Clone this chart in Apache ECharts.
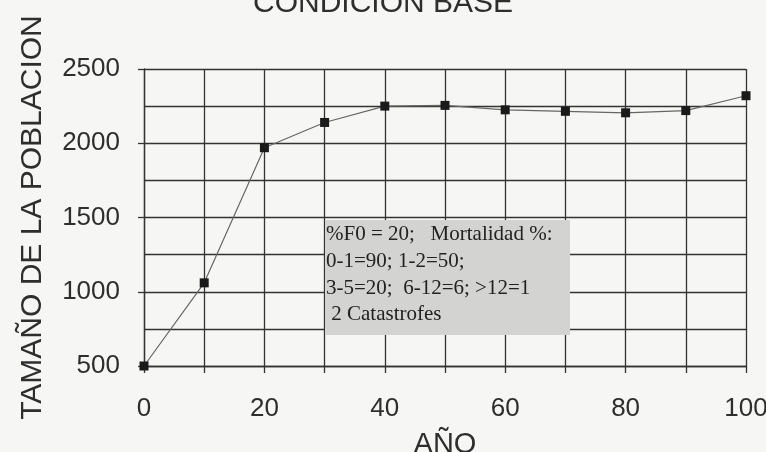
<!DOCTYPE html>
<html>
<head>
<meta charset="utf-8">
<script src="https://cdn.jsdelivr.net/npm/echarts@6/dist/echarts.min.js"></script>
<style>
html,body{margin:0;padding:0;background:#f6f6f4;}
#c{width:766px;height:452px;}
</style>
</head>
<body>
<div id="c"></div>
<script>
const years = [0, 10, 20, 30, 40, 50, 60, 70, 80, 90, 100];
const population = [500, 1060, 1970, 2140, 2250, 2255, 2225, 2215, 2205, 2220, 2320];
const titleText = 'CONDICION BASE';
const xName = 'AÑO';
const yName = 'TAMAÑO DE LA POBLACION';
const noteLines = ['%F0 = 20;   Mortalidad %:', '0-1=90; 1-2=50;', '3-5=20;  6-12=6; >12=1', ' 2 Catastrofes'];

const chart = echarts.init(document.getElementById('c'));
const ink = '#2e2e2e';
const gridStyle = {color: '#333', width: 1.3};
chart.setOption({
  backgroundColor: '#f6f6f4',
  animation: false,
  grid: {left: 144, right: 20, top: 69, bottom: 86, containLabel: false, outerBoundsMode: 'none'},
  xAxis: {
    type: 'value', min: 0, max: 100, interval: 20,
    axisLine: {show: true, lineStyle: gridStyle},
    axisTick: {show: true, length: 7, lineStyle: gridStyle},
    minorTick: {show: true, splitNumber: 2, length: 7, lineStyle: gridStyle},
    splitLine: {show: true, lineStyle: gridStyle},
    minorSplitLine: {show: true, lineStyle: gridStyle},
    axisLabel: {fontFamily: 'Liberation Sans, Arial', fontSize: 26, color: ink, margin: 30, formatter: v => String(v)},
    name: xName, nameLocation: 'middle', nameGap: 64,
    nameTextStyle: {fontFamily: 'Liberation Sans, Arial', fontSize: 29, color: ink}
  },
  yAxis: {
    type: 'value', min: 500, max: 2500, interval: 500,
    axisLine: {show: true, lineStyle: gridStyle},
    axisTick: {show: true, length: 6, lineStyle: gridStyle},
    minorTick: {show: false, splitNumber: 2},
    splitLine: {show: true, lineStyle: gridStyle},
    minorSplitLine: {show: true, lineStyle: gridStyle},
    axisLabel: {fontFamily: 'Liberation Sans, Arial', fontSize: 26, color: ink, margin: 24, formatter: v => String(v)},
    name: yName, nameLocation: 'middle', nameGap: 96, nameRotate: 90,
    nameTextStyle: {fontFamily: 'Liberation Sans, Arial', fontSize: 30, color: ink, padding: [0, 0, 0, 0]}
  },
  series: [{
    type: 'line',
    data: years.map((x, i) => [x, population[i]]),
    symbol: 'rect', symbolSize: 9,
    lineStyle: {color: '#666', width: 1.2},
    itemStyle: {color: '#1a1a1a'},
    z: 5
  }],
  graphic: [
    {type: 'text', left: 'center', top: -11, style: {text: titleText, fontFamily: 'Liberation Sans, Arial', fontSize: 30, fill: ink}, z: 10},
    {type: 'rect', shape: {x: 325, y: 220, width: 245, height: 115}, style: {fill: '#d3d3d1'}, z: 10},
    {type: 'text', x: 326, y: 221, style: {text: noteLines.join('\n'), fontFamily: 'Liberation Serif, Times New Roman', fontSize: 21, lineHeight: 26.8, fill: '#222'}, z: 11}
  ]
});
</script>
</body>
</html>
